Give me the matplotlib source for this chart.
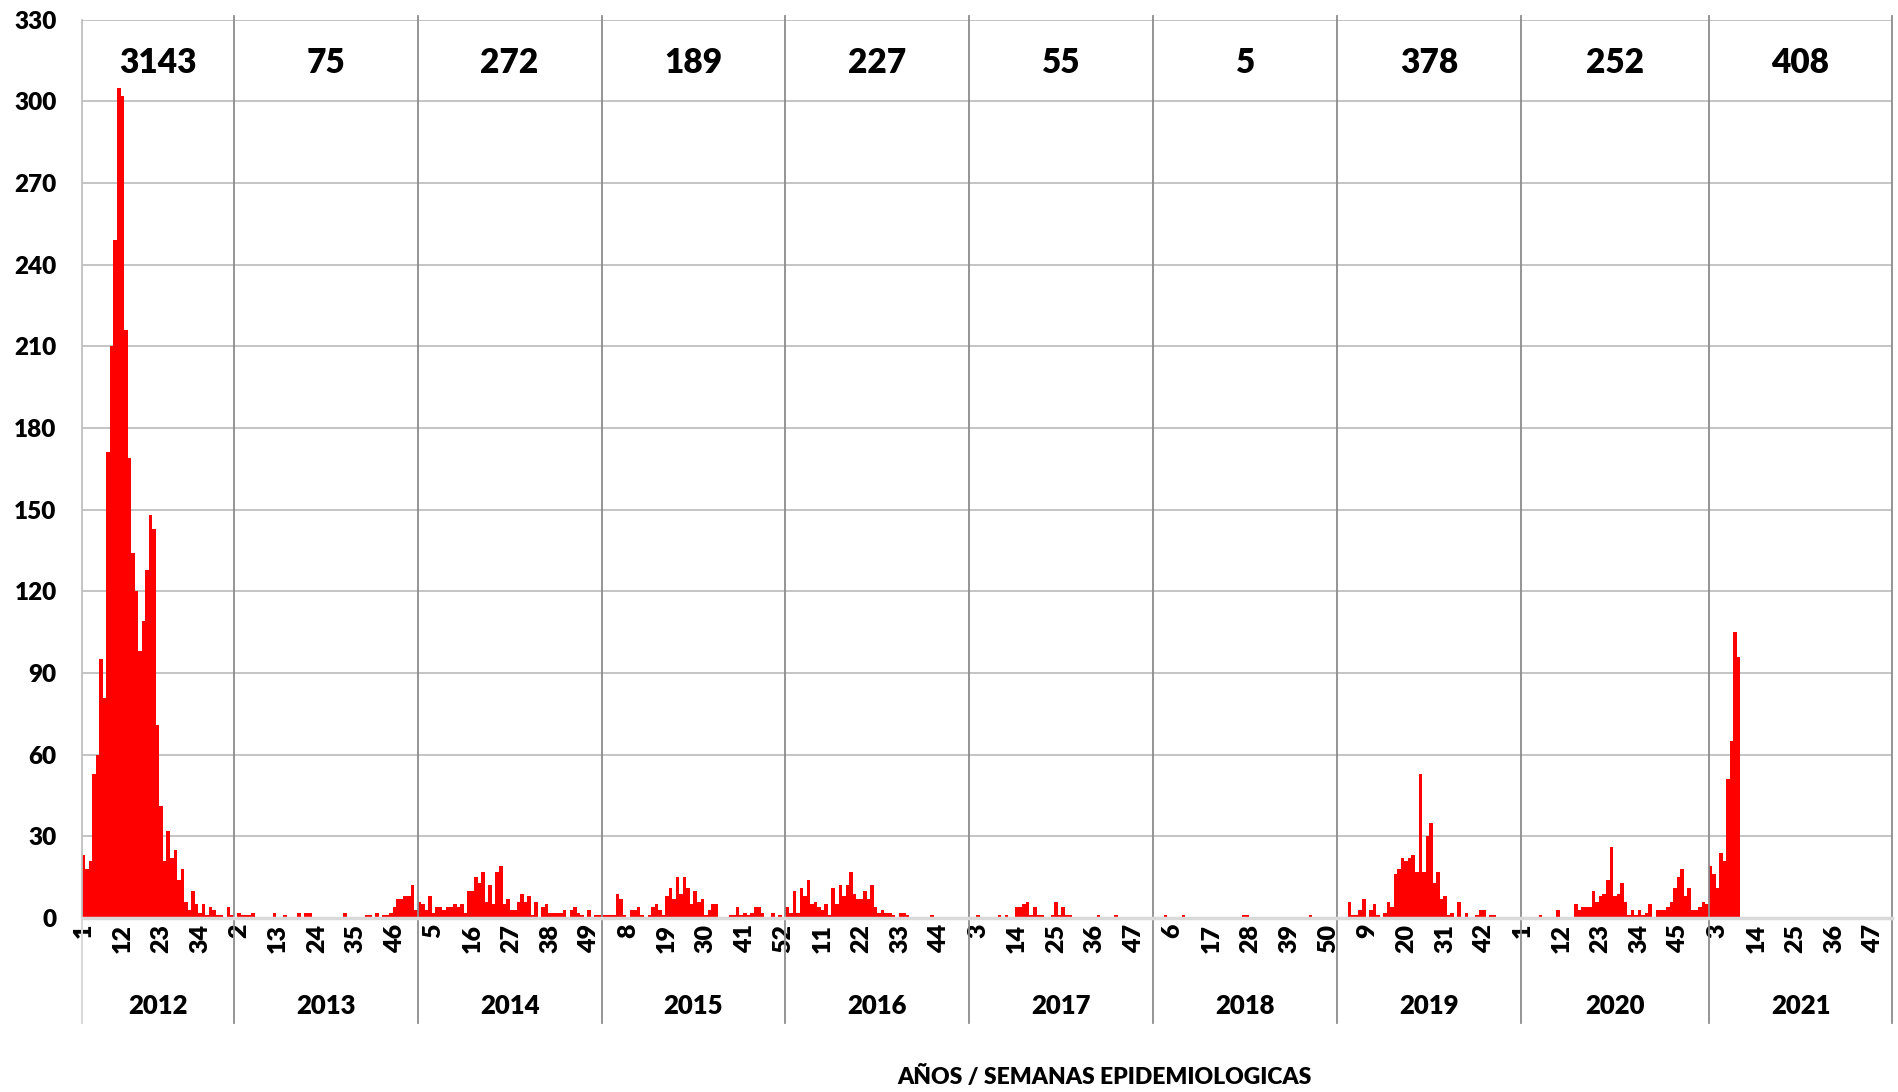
import numpy as np
import matplotlib.pyplot as plt
import matplotlib.transforms as mtransforms

plt.rcParams['font.family'] = ['Lato', 'DejaVu Sans']

# casos semanales por año (semana epidemiologica 1..n)
anios = ['2012', '2013', '2014', '2015', '2016', '2017', '2018', '2019', '2020', '2021']
totales = [3143, 75, 272, 189, 227, 55, 5, 378, 252, 408]

s2012 = [23, 18, 21, 53, 60, 95, 81, 171, 210, 249, 305, 302, 216, 169, 134, 120, 98, 109,
         128, 148, 143, 71, 41, 21, 32, 22, 25, 14, 18, 6, 3, 10, 5, 2, 5, 1, 4, 3, 1, 1, 0, 4, 1]
s2013 = [0, 2, 1, 1, 1, 2, 0, 0, 0, 0, 0, 2, 0, 0, 1, 0, 0, 0, 2, 0, 2, 2, 0, 0, 0, 0,
         0, 0, 0, 0, 0, 2, 0, 0, 0, 0, 0, 1, 1, 0, 2, 0, 1, 1, 2, 4, 7, 7, 8, 8, 12, 3]
s2014 = [6, 5, 3, 8, 2, 4, 4, 3, 4, 4, 5, 4, 5, 2, 10, 10, 15, 13, 17, 6, 12, 5, 17, 19, 5, 7,
         3, 3, 6, 9, 6, 8, 1, 6, 0, 4, 5, 2, 2, 2, 2, 3, 0, 3, 4, 2, 1, 0, 3, 0, 1, 1]
s2015 = [1, 1, 1, 1, 9, 7, 1, 0, 3, 3, 4, 1, 0, 1, 4, 5, 3, 1, 8, 11, 7, 15, 9, 15, 11, 5,
         10, 6, 7, 1, 3, 5, 5, 0, 0, 0, 1, 1, 4, 1, 2, 1, 2, 4, 4, 2, 0, 0, 2, 0, 1, 0]
s2016 = [4, 2, 10, 2, 11, 8, 14, 5, 6, 4, 3, 5, 1, 11, 5, 12, 8, 12, 17, 9, 7, 7, 10, 7, 12, 4,
         2, 3, 2, 2, 1, 0, 2, 2, 1, 0, 0, 0, 0, 0, 0, 1, 0, 0, 0, 0, 0, 0, 0, 0, 0, 0]
s2017 = [0, 0, 1, 0, 0, 0, 0, 0, 1, 0, 1, 0, 0, 4, 4, 5, 6, 1, 4, 1, 1, 0, 0, 1, 6, 1,
         4, 1, 1, 0, 0, 0, 0, 0, 0, 0, 1, 0, 0, 0, 0, 1, 0, 0, 0, 0, 0, 0, 0, 0, 0, 0]
s2018 = [0, 0, 0, 1, 0, 0, 0, 0, 1, 0, 0, 0, 0, 0, 0, 0, 0, 0, 0, 0, 0, 0, 0, 0, 0, 1,
         1, 0, 0, 0, 0, 0, 0, 0, 0, 0, 0, 0, 0, 0, 0, 0, 0, 0, 1, 0, 0, 0, 0, 0, 0, 0]
s2019 = [0, 0, 0, 6, 1, 1, 3, 7, 0, 3, 5, 1, 0, 2, 6, 4, 16, 18, 22, 21, 22, 23, 17, 53, 17, 30,
         35, 13, 17, 7, 8, 1, 2, 0, 6, 0, 2, 0, 0, 1, 3, 3, 0, 1, 1, 0, 0, 0, 0, 0, 0, 0]
s2020 = [0, 0, 0, 0, 0, 1, 0, 0, 0, 0, 3, 0, 0, 0, 0, 5, 3, 4, 4, 4, 10, 6, 8, 9, 14, 26,
         8, 9, 13, 6, 1, 3, 1, 3, 1, 2, 5, 0, 3, 3, 3, 4, 6, 11, 15, 18, 8, 11, 3, 3, 4, 6, 5]
s2021 = [19, 16, 11, 24, 21, 51, 65, 105, 96] + [0] * 43

series = [s2012, s2013, s2014, s2015, s2016, s2017, s2018, s2019, s2020, s2021]

valores = []
semanas = []
limites = [0]
for s in series:
    valores += s
    semanas += list(range(1, len(s) + 1))
    limites.append(len(valores))
x = np.arange(len(valores))

fig = plt.figure(figsize=(18.98, 10.92), dpi=100)
ax = fig.add_axes([0.0430, 0.1593, 0.9541, 0.8228])

ax.bar(x, valores, width=1.0, align='edge', color='#FF0000', linewidth=0)
ax.set_xlim(0, len(valores))
ax.set_ylim(0, 330)
ax.set_yticks(range(0, 331, 30))
ax.yaxis.grid(True, color='#BFBFBF', linewidth=1.3)
ax.set_axisbelow(True)

# etiquetas de semana cada 11 categorias
ticks = x[::11]
ax.set_xticks(ticks + 0.5)
ax.set_xticklabels([str(semanas[i]) for i in ticks], rotation=90, va='top')
ax.tick_params(axis='x', length=0, pad=4, labelsize=18)
ax.tick_params(axis='y', length=0, pad=18, labelsize=17.5)
for lab in ax.get_xticklabels() + ax.get_yticklabels():
    lab.set_fontweight('heavy')

for side in ['top', 'right']:
    ax.spines[side].set_visible(False)
ax.spines['left'].set_color('#BFBFBF')
ax.spines['left'].set_linewidth(1.3)
ax.spines['bottom'].set_color('#D9D9D9')
ax.spines['bottom'].set_linewidth(2.5)

trans = mtransforms.blended_transform_factory(ax.transData, ax.transAxes)

# separadores de años
ax.plot([0, 0], [0, -0.117], transform=trans, color='#D9D9D9', lw=1.5, clip_on=False)
for b in limites[1:]:
    ax.plot([b, b], [1.004, -0.117], transform=trans, color='#8C8C8C', lw=1.3, clip_on=False)

for i, anio in enumerate(anios):
    centro = (limites[i] + limites[i + 1]) / 2
    ax.text(centro, -0.098, anio, transform=trans, ha='center', va='center',
            fontsize=18.5, fontweight='heavy')
    ax.text(centro, 314, str(totales[i]), ha='center', va='center',
            fontsize=24, fontweight='heavy')

fig.text(0.582, 0.0137, 'AÑOS / SEMANAS EPIDEMIOLOGICAS', ha='center', va='center',
         fontsize=16.5, fontweight='heavy')

fig.savefig('out.png', dpi=100)
